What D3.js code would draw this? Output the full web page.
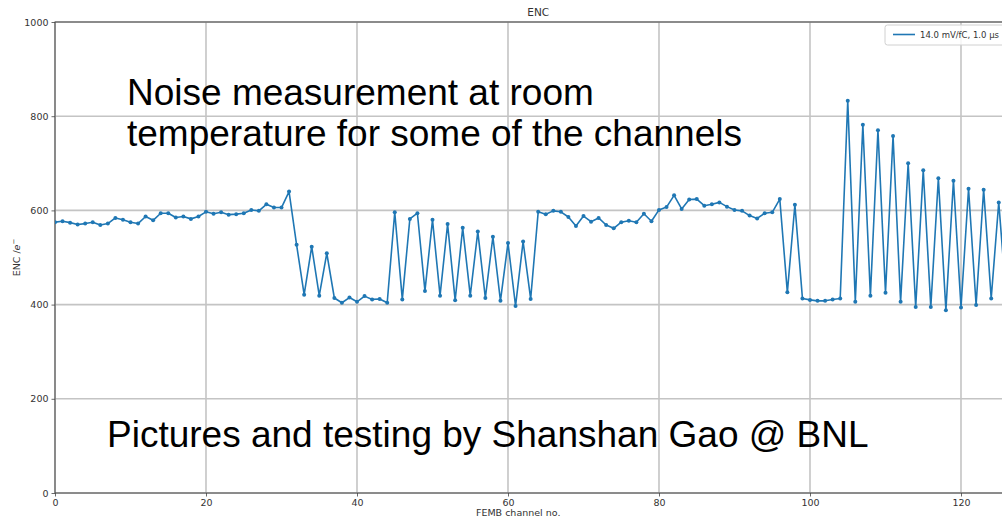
<!DOCTYPE html>
<html>
<head>
<meta charset="utf-8">
<script src="https://cdn.jsdelivr.net/npm/d3@7"></script>
<style>
  html, body { margin: 0; padding: 0; background: #fff; overflow: hidden; }
  svg { display: block; }
</style>
</head>
<body>
<svg id="chart" width="1002" height="518"></svg>
<script>
// ENC per FEMB channel (electrons), room temperature, 14 mV/fC, 1.0 us shaping
const channels = d3.range(0, 127);
const encValues = [
  575, 577, 574, 570, 572, 575, 569, 572, 584, 580,
  575, 572, 587, 579, 594, 594, 585, 587, 582, 587,
  597, 593, 596, 591, 592, 594, 601, 599, 613, 606,
  606, 640, 527, 421, 523, 419, 509, 414, 404, 415,
  406, 418, 411, 412, 404, 596, 411, 582, 594, 429,
  580, 419, 571, 409, 563, 419, 555, 414, 544, 408,
  531, 397, 534, 412, 597, 592, 599, 597, 586, 567,
  588, 576, 584, 569, 562, 575, 578, 575, 593, 577,
  601, 607, 632, 603, 623, 624, 610, 613, 617, 608,
  601, 599, 589, 583, 594, 596, 624, 426, 612, 413,
  410, 408, 408, 411, 413, 833, 406, 782, 419, 770,
  425, 758, 406, 700, 395, 685, 395, 668, 388, 663,
  394, 646, 399, 644, 413, 617, 412
];
const xTicks = [0, 20, 40, 60, 80, 100, 120];
const yTicks = [0, 200, 400, 600, 800, 1000];
const seriesLabel = "14.0 mV/fC, 1.0 \u03bcs";
const chartTitle = "ENC";
const xLabel = "FEMB channel no.";
const notesTop = ["Noise measurement at room", "temperature for some of the channels"];
const noteBottom = "Pictures and testing by Shanshan Gao @ BNL";

const svg = d3.select("#chart");
const m = { left: 55, top: 22, right: 1021.4, bottom: 493 };

const x = d3.scaleLinear().domain([0, 128]).range([m.left, m.right]);
const y = d3.scaleLinear().domain([0, 1000]).range([m.bottom, m.top]);

const tickFont = "DejaVu Sans, sans-serif";

// grid
const grid = svg.append("g");
grid.selectAll("line.gx").data(xTicks).join("line")
  .attr("x1", d => x(d)).attr("x2", d => x(d))
  .attr("y1", m.top).attr("y2", m.bottom)
  .attr("stroke", "#c4c4c4").attr("stroke-width", 1.6);
grid.selectAll("line.gy").data(yTicks).join("line")
  .attr("x1", m.left).attr("x2", m.right)
  .attr("y1", d => y(d)).attr("y2", d => y(d))
  .attr("stroke", "#c4c4c4").attr("stroke-width", 1.6);

// axes
const xAxis = d3.axisBottom(x).tickValues(xTicks).tickFormat(d3.format("d")).tickSize(3.5).tickPadding(3);
const yAxis = d3.axisLeft(y).tickValues(yTicks).tickFormat(d3.format("d")).tickSize(3.5).tickPadding(3);

const gx = svg.append("g").attr("transform", `translate(0,${m.bottom})`).call(xAxis);
const gy = svg.append("g").attr("transform", `translate(${m.left},0)`).call(yAxis);
[gx, gy].forEach(g => {
  g.select(".domain").remove();
  g.selectAll(".tick line").attr("stroke", "#444").attr("stroke-width", 0.8);
  g.selectAll(".tick text").attr("fill", "#333").style("font-family", tickFont).style("font-size", "9.5px");
});

// spines
svg.append("rect")
  .attr("x", m.left).attr("y", m.top)
  .attr("width", m.right - m.left).attr("height", m.bottom - m.top)
  .attr("fill", "none").attr("stroke", "#444").attr("stroke-width", 1);

// data line
svg.append("clipPath").attr("id", "plotClip")
  .append("rect").attr("x", m.left).attr("y", m.top)
  .attr("width", m.right - m.left).attr("height", m.bottom - m.top);

const pts = channels.map((c, i) => [c, encValues[i]]);
const plot = svg.append("g").attr("clip-path", "url(#plotClip)");
plot.append("path")
  .datum(pts)
  .attr("fill", "none")
  .attr("stroke", "#1f77b4")
  .attr("stroke-width", 1.6)
  .attr("stroke-linejoin", "round")
  .attr("d", d3.line().x(d => x(d[0])).y(d => y(d[1])));
plot.selectAll("circle").data(pts).join("circle")
  .attr("cx", d => x(d[0])).attr("cy", d => y(d[1]))
  .attr("r", 2).attr("fill", "#1f77b4");

// title and axis labels
svg.append("text").attr("x", (m.left + m.right) / 2).attr("y", 16)
  .attr("text-anchor", "middle").style("font-family", tickFont).style("font-size", "10.5px")
  .attr("fill", "#333").text(chartTitle);
svg.append("text").attr("x", (m.left + m.right) / 2 - 20).attr("y", 516)
  .attr("text-anchor", "middle").style("font-family", tickFont).style("font-size", "9.5px")
  .attr("fill", "#333").text(xLabel);
const yl = svg.append("text")
  .attr("transform", `translate(20,${(m.top + m.bottom) / 2}) rotate(-90)`)
  .attr("text-anchor", "middle").style("font-family", tickFont).style("font-size", "9.5px")
  .attr("fill", "#333");
yl.append("tspan").text("ENC /");
yl.append("tspan").style("font-style", "italic").text("e");
yl.append("tspan").attr("dy", -4).style("font-size", "7px").text("\u2212");

// legend
const lg = svg.append("g");
lg.append("rect").attr("x", 885).attr("y", 25).attr("width", 140).attr("height", 20)
  .attr("rx", 2.5).attr("fill", "#fff").attr("fill-opacity", 0.85)
  .attr("stroke", "#d0d0d0").attr("stroke-width", 1);
lg.append("line").attr("x1", 893).attr("x2", 915).attr("y1", 34.5).attr("y2", 34.5)
  .attr("stroke", "#1f77b4").attr("stroke-width", 1.6);
lg.append("text").attr("x", 920).attr("y", 38)
  .style("font-family", tickFont).style("font-size", "8.5px").attr("fill", "#333")
  .text(seriesLabel);

// annotations
const noteFont = "Liberation Sans, Arial, sans-serif";
svg.append("text").attr("x", 127).attr("y", 105)
  .style("font-family", noteFont).style("font-size", "37px").attr("fill", "#000")
  .text(notesTop[0]);
svg.append("text").attr("x", 127).attr("y", 146)
  .style("font-family", noteFont).style("font-size", "37px").attr("fill", "#000")
  .text(notesTop[1]);
svg.append("text").attr("x", 107).attr("y", 447)
  .style("font-family", noteFont).style("font-size", "37px").attr("fill", "#000")
  .text(noteBottom);
</script>
</body>
</html>
